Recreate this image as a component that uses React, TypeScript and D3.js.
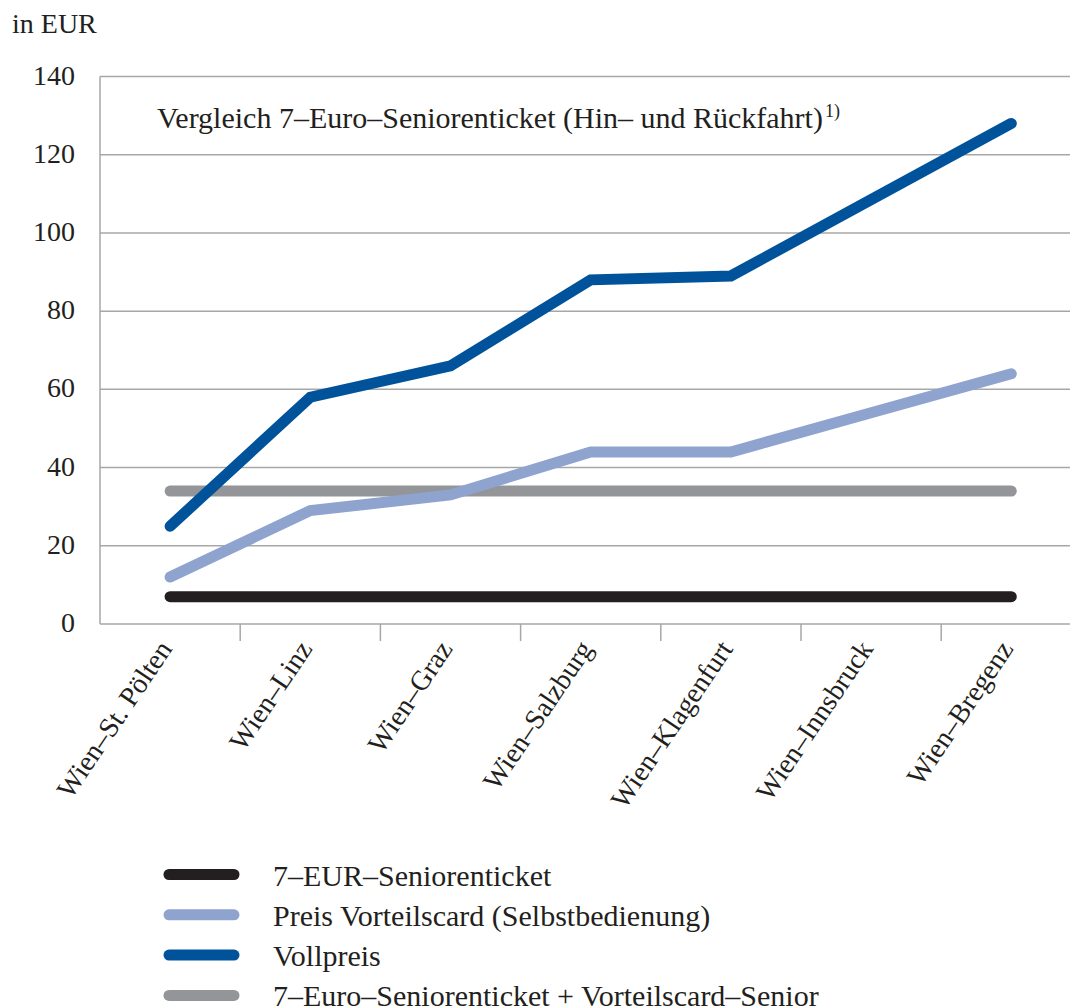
import React from "react";
import * as d3 from "d3";

const categories = [
  "Wien–St. Pölten",
  "Wien–Linz",
  "Wien–Graz",
  "Wien–Salzburg",
  "Wien–Klagenfurt",
  "Wien–Innsbruck",
  "Wien–Bregenz",
];
const seniorTicket = [7, 7, 7, 7, 7, 7, 7];
const vorteilscard = [12, 29, 33, 44, 44, 54, 64];
const vollpreis = [25, 58, 66, 88, 89, 108.5, 128];
const seniorPlusCard = [34, 34, 34, 34, 34, 34, 34];
const yTicks = [0, 20, 40, 60, 80, 100, 120, 140];

const seriesNames = [
  "7–EUR–Seniorenticket",
  "Preis Vorteilscard (Selbstbedienung)",
  "Vollpreis",
  "7–Euro–Seniorenticket + Vorteilscard–Senior",
];
const seriesColors = ["#231f20", "#8fa3cf", "#00539b", "#939598"];
const seriesData = [seniorTicket, vorteilscard, vollpreis, seniorPlusCard];
const drawOrder = [3, 0, 1, 2];

const FONT = "'Liberation Serif', 'DejaVu Serif', serif";

export default function App() {
  const W = 1070;
  const H = 1008;
  const left = 100;
  const bandW = 140.2;
  const x = d3
    .scaleBand<string>()
    .domain(categories)
    .range([left, left + bandW * categories.length]);
  const y = d3.scaleLinear().domain([0, 140]).range([624, 76.5]);
  const cx = (c: string) => (x(c) as number) + x.bandwidth() / 2;
  const line = d3
    .line<number>()
    .x((_, i) => cx(categories[i]))
    .y((d) => y(d));
  const xEnd = left + bandW * categories.length;
  const gridColor = "#a7a7a7";
  const textColor = "#231f20";

  return (
    <svg
      width={W}
      height={H}
      style={{ position: "absolute", left: 0, top: 0, background: "#fff" }}
      fontFamily={FONT}
    >
      <text x={12} y={33} fontSize={28} fill={textColor}>
        in EUR
      </text>
      {yTicks.map((t) => (
        <g key={t}>
          <line x1={left} x2={xEnd} y1={y(t)} y2={y(t)} stroke={gridColor} strokeWidth={1.5} />
          <text x={75} y={y(t) + 8} fontSize={28} textAnchor="end" fill={textColor}>
            {t}
          </text>
        </g>
      ))}
      <line x1={left} x2={left} y1={y(140)} y2={y(0)} stroke={gridColor} strokeWidth={1.5} />
      {categories.slice(1).map((c) => (
        <line
          key={c}
          x1={x(c) as number}
          x2={x(c) as number}
          y1={y(0)}
          y2={y(0) + 17}
          stroke={gridColor}
          strokeWidth={1.5}
        />
      ))}
      {categories.map((c) => (
        <text
          key={c}
          transform={`translate(${cx(c) + 3},${y(0) + 25}) rotate(-56)`}
          textAnchor="end"
          fontSize={28}
          fill={textColor}
        >
          {c}
        </text>
      ))}
      <text x={157} y={128} fontSize={30} fill={textColor}>
        Vergleich 7–Euro–Seniorenticket (Hin– und Rückfahrt)
        <tspan fontSize={18} dy={-11} dx={2}>
          1)
        </tspan>
      </text>
      {drawOrder.map((si) => (
        <path
          key={si}
          d={line(seriesData[si]) || ""}
          fill="none"
          stroke={seriesColors[si]}
          strokeWidth={11}
          strokeLinecap="round"
          strokeLinejoin="miter"
        />
      ))}
      {seriesNames.map((n, i) => {
        const ly = 874.5 + i * 40.3;
        return (
          <g key={n}>
            <line
              x1={169}
              x2={234}
              y1={ly}
              y2={ly}
              stroke={seriesColors[i]}
              strokeWidth={11}
              strokeLinecap="round"
            />
            <text x={273} y={ly + 11} fontSize={30} fill={textColor}>
              {n}
            </text>
          </g>
        );
      })}
    </svg>
  );
}
